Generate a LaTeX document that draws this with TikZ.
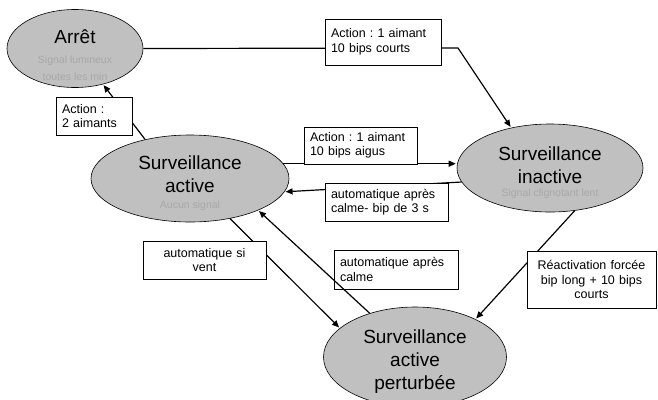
\documentclass[tikz,border=0pt]{standalone}
\usepackage{fontspec}
\setmainfont{Liberation Sans}
\usetikzlibrary{shapes.geometric, arrows.meta}
\frenchspacing

\definecolor{etatgris}{HTML}{C0C0C0}
\definecolor{soustexte}{HTML}{A8A8A8}

\tikzset{
    etat/.style={ellipse, draw, fill=etatgris, inner sep=0pt, line width=0.6pt},
    titre/.style={font=\fontsize{19}{23}\selectfont, align=center, inner sep=0pt},
    soustitre/.style={font=\fontsize{10.5}{17}\selectfont, text=soustexte, align=center, inner sep=0pt},
    etiquette/.style={draw, fill=white, line width=0.6pt, font=\fontsize{12.5}{14.5}\selectfont,
        inner xsep=6pt, inner ysep=2pt},
    fleche/.style={line width=1.2pt, -{Triangle[length=7pt,width=6pt]}, shorten >=1pt},
}

\begin{document}
\begin{tikzpicture}[x=1pt, y=-1pt]
    \useasboundingbox (0, 0) rectangle (658, 399);

    % Etats
    \node[etat, minimum width=136pt, minimum height=78pt] (arret) at (75, 48.5) {};
    \node[etat, minimum width=198pt, minimum height=87pt] (active) at (190, 178.5) {};
    \node[etat, minimum width=186pt, minimum height=88pt] (inactive) at (550, 168) {};
    \node[etat, minimum width=183pt, minimum height=100pt] (perturbee) at (415, 357) {};

    \node[titre] (arret-t) at (75, 37) {Arrêt};
    \node[soustitre] (arret-s) at (75, 68) {Signal lumineux\\toutes les min};
    \node[titre] (active-t) at (190, 174) {Surveillance\\active};
    \node[soustitre] (active-s) at (190, 206) {Aucun signal};
    \node[titre] (inactive-t) at (550, 165.5) {Surveillance\\inactive};
    \node[soustitre] (inactive-s) at (550, 194) {Signal clignotant lent};
    \node[titre] (perturbee-t) at (415, 361.5) {Surveillance\\active\\perturbée};

    % Transitions
    \coordinate (coude) at (458, 48);
    \draw[fleche] (arret.east) -- (coude) -- (inactive.134);
    \draw[fleche] (active.139) -- (arret.-52);
    \draw[fleche] (active.9) -- (inactive.west |- active.9);
    \draw[fleche] (inactive.189) -- (active.-8);
    \draw[fleche] (active.-45) -- (perturbee.159);
    \draw[fleche] (inactive.-60) -- (perturbee.32);

    % Etiquettes
    \node[etiquette, text width=104pt, minimum height=46pt, align=left] (act1) at (383, 42)
        {Action : 1 aimant\\10 bips courts};
    \node[etiquette, text width=64pt, minimum height=38pt, align=left] (act2) at (94, 116)
        {Action :\\2 aimants};
    \node[etiquette, text width=101pt, minimum height=37pt, align=left] (act1b) at (360.5, 145.5)
        {Action : 1 aimant\\10 bips aigus};
    \node[etiquette, text width=111pt, minimum height=38pt, align=left] (calme3s) at (386.5, 202)
        {automatique après\\calme- bip de 3 s};
    \node[etiquette, text width=111pt, minimum height=38pt, align=center] (vent) at (204.5, 260)
        {automatique si\\vent};
    \node[etiquette, text width=117pt, minimum height=57pt, align=center] (reactiv) at (591.5, 279.5)
        {Réactivation forcée\\bip long + 10 bips\\courts};
    \node[etiquette, fill=none, text width=112pt, minimum height=39pt, align=left] (calme) at (396, 269.5)
        {automatique après\\calme};

    \draw[fleche] (perturbee.136) -- (active.-25);
\end{tikzpicture}
\end{document}
